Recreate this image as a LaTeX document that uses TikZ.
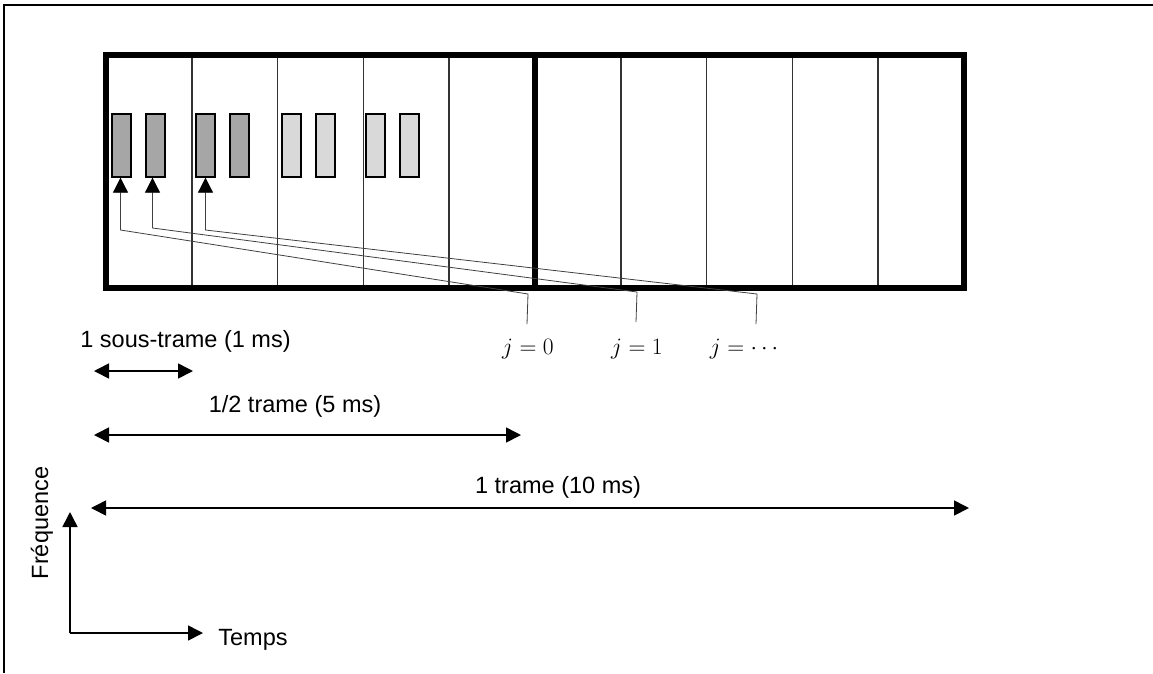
\RequirePackage{fix-cm}
\documentclass[tikz,border=0pt]{standalone}
\usepackage[no-math]{fontspec}
\setmainfont{Liberation Sans}
\usetikzlibrary{arrows.meta}
\begin{document}
\begin{tikzpicture}[x=1pt,y=-1pt,
  font=\fontsize{23.5}{28}\selectfont,
  frameline/.style={line width=1.3pt},
  bigborder/.style={line width=5.5pt},
  divider/.style={line width=1.6pt, black!80},
  slotdark/.style={draw, line width=1.3pt, fill=black!35, minimum width=19pt, minimum height=63pt, inner sep=0pt},
  slotlight/.style={slotdark, fill=black!15},
  leadarrow/.style={line width=0.8pt, black!75, -{Triangle[length=15pt,width=15pt,color=black]}},
  dimarrow/.style={line width=1.6pt, {Triangle[length=15pt,width=15pt]}-{Triangle[length=15pt,width=15pt]}},
  axisarrow/.style={line width=1.6pt, -{Triangle[length=15pt,width=15pt]}},
  lbl/.style={inner sep=0pt}
]
\useasboundingbox (0,0) rectangle (1153,673);
% outer frame (top and left)
\draw[frameline] (4,673) -- (4,5) -- (1153,5);

% frame grid
\foreach \x in {191.8,277.6,363.4,449.2,620.8,706.6,792.4,878.2}
  \draw[divider] (\x,55) -- (\x,288);
\draw[bigborder] (106,55) rectangle (964,288);
\draw[bigborder] (535,55) -- (535,288);

% resource slots
\node[slotdark]  (r1) at (121.5,145.5) {};
\node[slotdark]  (r2) at (155.5,145.5) {};
\node[slotdark]  (r3) at (205.5,145.5) {};
\node[slotdark]  (r4) at (239.5,145.5) {};
\node[slotlight] (r5) at (291.5,145.5) {};
\node[slotlight] (r6) at (325.5,145.5) {};
\node[slotlight] (r7) at (375.5,145.5) {};
\node[slotlight] (r8) at (409.5,145.5) {};

% j labels
\node[lbl] (j0) at (528,349) {$j=0$};
\node[lbl] (j1) at (637,349) {$j=1$};
\node[lbl] (j2) at (744,349) {$j=\cdots$};

% leader lines
\coordinate (la) at (527,324);
\coordinate (ca) at (528,294);
\coordinate (lb) at (636,322);
\coordinate (cb) at (637,292);
\coordinate (lc) at (756,324);
\coordinate (cc) at (757,294);
\coordinate (ta) at ([xshift=-1pt]r1.south);
\coordinate (tb) at ([xshift=-3pt]r2.south);
\coordinate (tc) at (r3.south);
\draw[leadarrow] (la) -- (ca) -- (ta |- 0,230) -- (ta);
\draw[leadarrow] (lb) -- (cb) -- (tb |- 0,228) -- (tb);
\draw[leadarrow] (lc) -- (cc) -- (tc |- 0,230) -- (tc);

% duration arrows
\coordinate (s1) at (94,371);
\coordinate (s2) at (193,371);
\node[lbl] (ls) at (185.5,341) {1 sous-trame (1 ms)};
\draw[dimarrow] (s1) -- (s2);

\coordinate (h1) at (94,435);
\coordinate (h2) at (521,435);
\node[lbl] (lh) at (295,406) {1/2 trame (5 ms)};
\draw[dimarrow] (h1) -- (h2);

\coordinate (t1) at (91,508);
\coordinate (t2) at (969,508);
\node[lbl] (lt) at (558,487) {1 trame (10 ms)};
\draw[dimarrow] (t1) -- (t2);

% axes
\coordinate (o) at (70,633);
\coordinate (fy) at (70,512);
\coordinate (fx) at (203,633);
\draw[axisarrow] (o) -- (fy);
\draw[axisarrow] (o) -- (fx);
\node[lbl] (temps) at (253,640) {Temps};
\node[lbl, rotate=90] (freq) at (42,523) {Fréquence};
\end{tikzpicture}
\end{document}
